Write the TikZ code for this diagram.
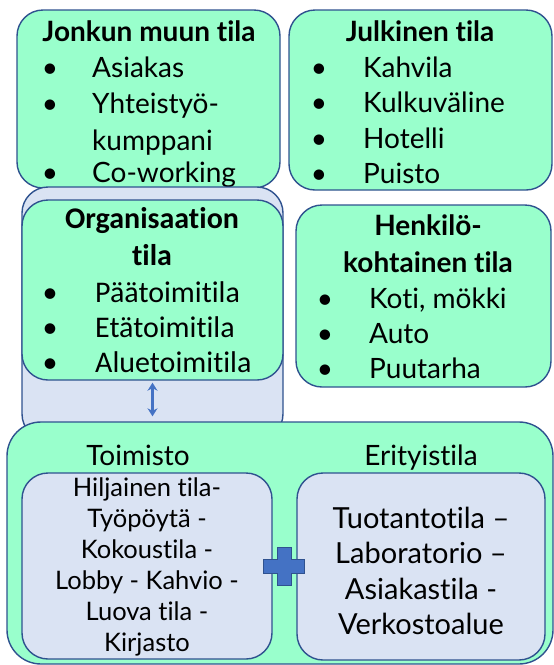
\documentclass[tikz,border=0pt]{standalone}
\usepackage{fontspec}
\setmainfont{Lato}[Ligatures={NoCommon,NoContextual}]
\newfontfamily\calib{Carlito}[Ligatures={NoCommon,NoContextual}]
\usetikzlibrary{arrows.meta}
\definecolor{mint}{HTML}{99FFCC}
\definecolor{lav}{HTML}{DAE3F3}
\definecolor{edge}{HTML}{2F528F}
\definecolor{accent}{HTML}{4472C4}
\begin{document}
\begin{tikzpicture}[x=1pt,y=-1pt,
 box/.style={draw=edge, line width=1.4pt, rounded corners=26pt, inner sep=0pt},
 greenbox/.style={box, fill=mint},
 lavbox/.style={box, fill=lav},
 lbl/.style={inner sep=0pt, text height=20pt, text depth=0pt, font=\fontsize{28}{33}\selectfont},
 ttl/.style={lbl, font=\fontsize{28}{33}\selectfont\bfseries},
 clbl/.style={lbl, text height=21pt, font=\fontsize{30}{35}\selectfont\calib},
 cttl/.style={lbl, text height=21pt, font=\fontsize{30}{35}\selectfont\calib\bfseries},
 itm/.style={lbl, anchor=west},
 citm/.style={clbl, anchor=west},
]
\useasboundingbox (0,0) rectangle (554,665);
% Jonkun muun tila
\node[greenbox, minimum width=263pt, minimum height=178pt] (A) at (148.5,99) {};
\node[ttl] (At) at (149,31) {Jonkun muun tila};
\node[lbl] (Ab1) at (50,67) {•};  \node[itm] (Ai1) at (92,67) {Asiakas};
\node[lbl] (Ab2) at (50,103) {•}; \node[itm] (Ai2) at (92,103) {Yhteistyö-};
\node[itm] (Ai3) at (92,140) {kumppani};
\node[lbl] (Ab4) at (50,172) {•}; \node[itm] (Ai4) at (92,172) {Co-working};
% Julkinen tila
\node[greenbox, minimum width=263pt, minimum height=180pt] (B) at (420.5,100) {};
\node[ttl] (Bt) at (420,31) {Julkinen tila};
\node[lbl] (Bb1) at (319,67) {•};  \node[itm] (Bi1) at (363,67) {Kahvila};
\node[lbl] (Bb2) at (319,102) {•}; \node[itm] (Bi2) at (363,102) {Kulkuväline};
\node[lbl] (Bb3) at (319,138) {•}; \node[itm] (Bi3) at (363,138) {Hotelli};
\node[lbl] (Bb4) at (319,173) {•}; \node[itm] (Bi4) at (363,173) {Puisto};
% lavender back
\node[lavbox, minimum width=261pt, minimum height=253pt] (L) at (152.5,313.5) {};
% Organisaation tila
\node[greenbox, minimum width=261pt, minimum height=180pt] (O) at (152.5,290) {};
\node[cttl] (Ot1) at (152,218) {Organisaation};
\node[cttl] (Ot2) at (152,255) {tila};
\node[clbl] (Ob1) at (50,292) {•}; \node[citm] (Oi1) at (95,292) {Päätoimitila};
\node[clbl] (Ob2) at (50,327) {•}; \node[citm] (Oi2) at (95,327) {Etätoimitila};
\node[clbl] (Ob3) at (50,362) {•}; \node[citm] (Oi3) at (95,362) {Aluetoimitila};
% Henkilokohtainen tila
\node[greenbox, minimum width=255pt, minimum height=182pt] (H) at (423.5,296) {};
\node[ttl] (Ht1) at (428,225) {Henkilö-};
\node[ttl] (Ht2) at (428,262) {kohtainen tila};
\node[lbl] (Hb1) at (325,298) {•}; \node[itm] (Hi1) at (369,298) {Koti, mökki};
\node[lbl] (Hb2) at (325,333) {•}; \node[itm] (Hi2) at (369,333) {Auto};
\node[lbl] (Hb3) at (325,368) {•}; \node[itm] (Hi3) at (369,368) {Puutarha};
% big green
\node[greenbox, rounded corners=34pt, minimum width=546pt, minimum height=242pt] (G) at (280,543) {};
\node[lbl] (Gt1) at (138,455) {Toimisto};
\node[lbl] (Gt2) at (421,455) {Erityistila};
\node[lavbox, minimum width=250pt, minimum height=186pt] (T) at (147,566) {};
\node[lavbox, minimum width=248pt, minimum height=187pt] (E) at (421,566.5) {};
\node[inner sep=0pt, align=center, font=\fontsize{25.5}{31}\selectfont] (Tx) at (147,567)
  {Hiljainen tila-\\Työpöytä -\\Kokoustila -\\Lobby - Kahvio -\\Luova tila -\\Kirjasto};
\node[inner sep=0pt, align=center, font=\fontsize{29}{35.5}\selectfont] (Ex) at (421,571)
  {Tuotantotila –\\Laboratorio –\\Asiakastila -\\Verkostoalue};
% plus sign
\coordinate (P) at (284,566);
\fill[accent, draw=edge, line width=0.8pt]
  ([shift={(-7,-19)}]P) -- ([shift={(7,-19)}]P) -- ([shift={(7,-7)}]P) -- ([shift={(20,-7)}]P)
  -- ([shift={(20,7)}]P) -- ([shift={(7,7)}]P) -- ([shift={(7,19)}]P) -- ([shift={(-7,19)}]P)
  -- ([shift={(-7,7)}]P) -- ([shift={(-21,7)}]P) -- ([shift={(-21,-7)}]P) -- ([shift={(-7,-7)}]P) -- cycle;
% double arrow
\draw[accent, line width=2.4pt, {Stealth[length=8pt,width=10pt]}-{Stealth[length=8pt,width=10pt]},
  shorten <=2pt, shorten >=5pt] (O.south) -- (O.south |- G.north);
\end{tikzpicture}
\end{document}
